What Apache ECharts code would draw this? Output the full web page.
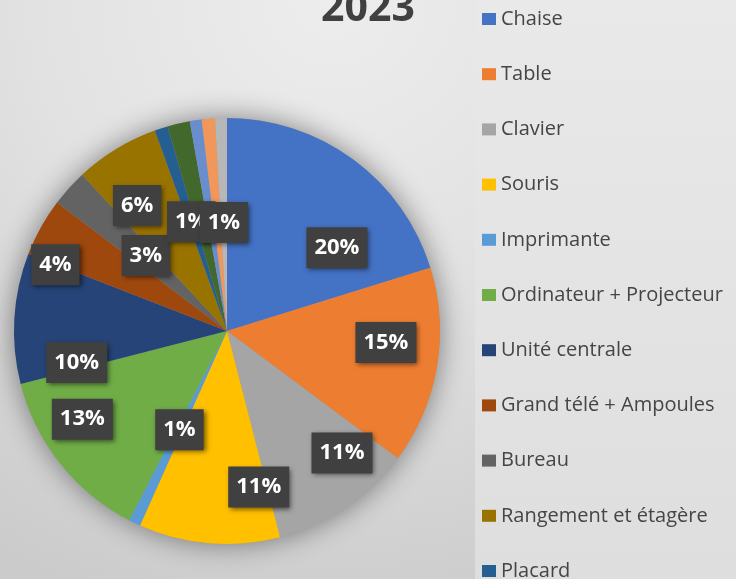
<!DOCTYPE html>
<html>
<head>
<meta charset="utf-8">
<script src="https://cdn.jsdelivr.net/npm/echarts@6/dist/echarts.min.js"></script>
<style>
    html, body {margin: 0; padding: 0;}
    #chart {
        width: 736px;
        height: 579px;
        background:
            linear-gradient(#e9e9e9, #dedede) right / 261px 100% no-repeat,
            radial-gradient(ellipse 90% 110% at 45% 0%, #ededed 0%, #e2e2e2 45%, #cbcbcb 100%);
    }
</style>
</head>
<body>
<div id="chart"></div>
<script>
// données 2023
var categories = ['Chaise', 'Table', 'Clavier', 'Souris', 'Imprimante', 'Ordinateur + Projecteur',
    'Unité centrale', 'Grand télé + Ampoules', 'Bureau', 'Rangement et étagère', 'Placard',
    'Autre 1', 'Autre 2', 'Autre 3', 'Autre 4'];
var values = [20.2, 15.0, 10.8, 10.7, 0.9, 13.4, 9.9, 4.4, 2.8, 6.4, 1.0, 1.7, 0.9, 1.0, 0.9];
var colors = ['#4472C4', '#ED7D31', '#A5A5A5', '#FFC000', '#5B9BD5', '#70AD47', '#264478',
    '#9E480E', '#636363', '#997300', '#255E91', '#43682B', '#698ED0', '#F1975A', '#B7B7B7'];

// étiquettes masquées (comme dans Excel)
var hiddenLabels = [11, 12, 13];
// décalage des étiquettes par rapport au milieu du secteur
var labelShift = [[45, 5], [51, -7], [54, 31], [41, 47], [0, 0], [-59, 20], [-41, 38],
    [-76, -13], [0, -2], [-33, -32], [-2, -5], [0, 0], [0, 0], [0, 0], [0, 1]];

var pieData = [];
for (var i = 0; i < categories.length; i++) {
    var item = {name: categories[i], value: values[i]};
    if (hiddenLabels.indexOf(i) >= 0) {
        item.label = {show: false};
    }
    pieData.push(item);
}

var myChart = echarts.init(document.getElementById('chart'));
myChart.setOption({
    color: colors,
    title: {
        text: '2023',
        left: 'center',
        top: -11,
        padding: 0,
        textStyle: {
            fontFamily: 'Open Sans',
            fontSize: 41,
            fontWeight: 'bold',
            color: '#404040'
        }
    },
    legend: {
        orient: 'vertical',
        left: 482,
        top: 9,
        height: 1200,
        padding: 0,
        itemWidth: 14,
        itemHeight: 12,
        itemGap: 35.2,
        icon: 'rect',
        selectedMode: false,
        data: categories,
        textStyle: {
            fontFamily: 'Open Sans',
            fontSize: 20,
            lineHeight: 20,
            color: '#454545'
        }
    },
    series: [
        {
            // ombre du disque
            type: 'pie',
            center: [227, 331],
            radius: 213,
            silent: true,
            z: 1,
            label: {show: false},
            itemStyle: {
                color: '#9a9a9a',
                shadowBlur: 28,
                shadowColor: 'rgba(0,0,0,0.45)'
            },
            data: [{name: '', value: 1}]
        },
        {
            name: '2023',
            type: 'pie',
            center: [227, 331],
            radius: 213,
            startAngle: 90,
            z: 2,
            itemStyle: {borderWidth: 0},
            label: {
                position: 'inside',
                formatter: function (p) {
                    return Math.round(p.percent) + '%';
                },
                fontFamily: 'Open Sans',
                fontSize: 22,
                fontWeight: 'bold',
                lineHeight: 24,
                color: '#ffffff',
                backgroundColor: '#404040',
                padding: [9, 8, 8, 8],
                shadowBlur: 5,
                shadowColor: 'rgba(0,0,0,0.55)',
                shadowOffsetX: 2,
                shadowOffsetY: 2
            },
            labelLine: {show: false},
            labelLayout: function (params) {
                var s = labelShift[params.dataIndex] || [0, 0];
                return {dx: s[0], dy: s[1]};
            },
            data: pieData
        }
    ]
});
</script>
</body>
</html>
